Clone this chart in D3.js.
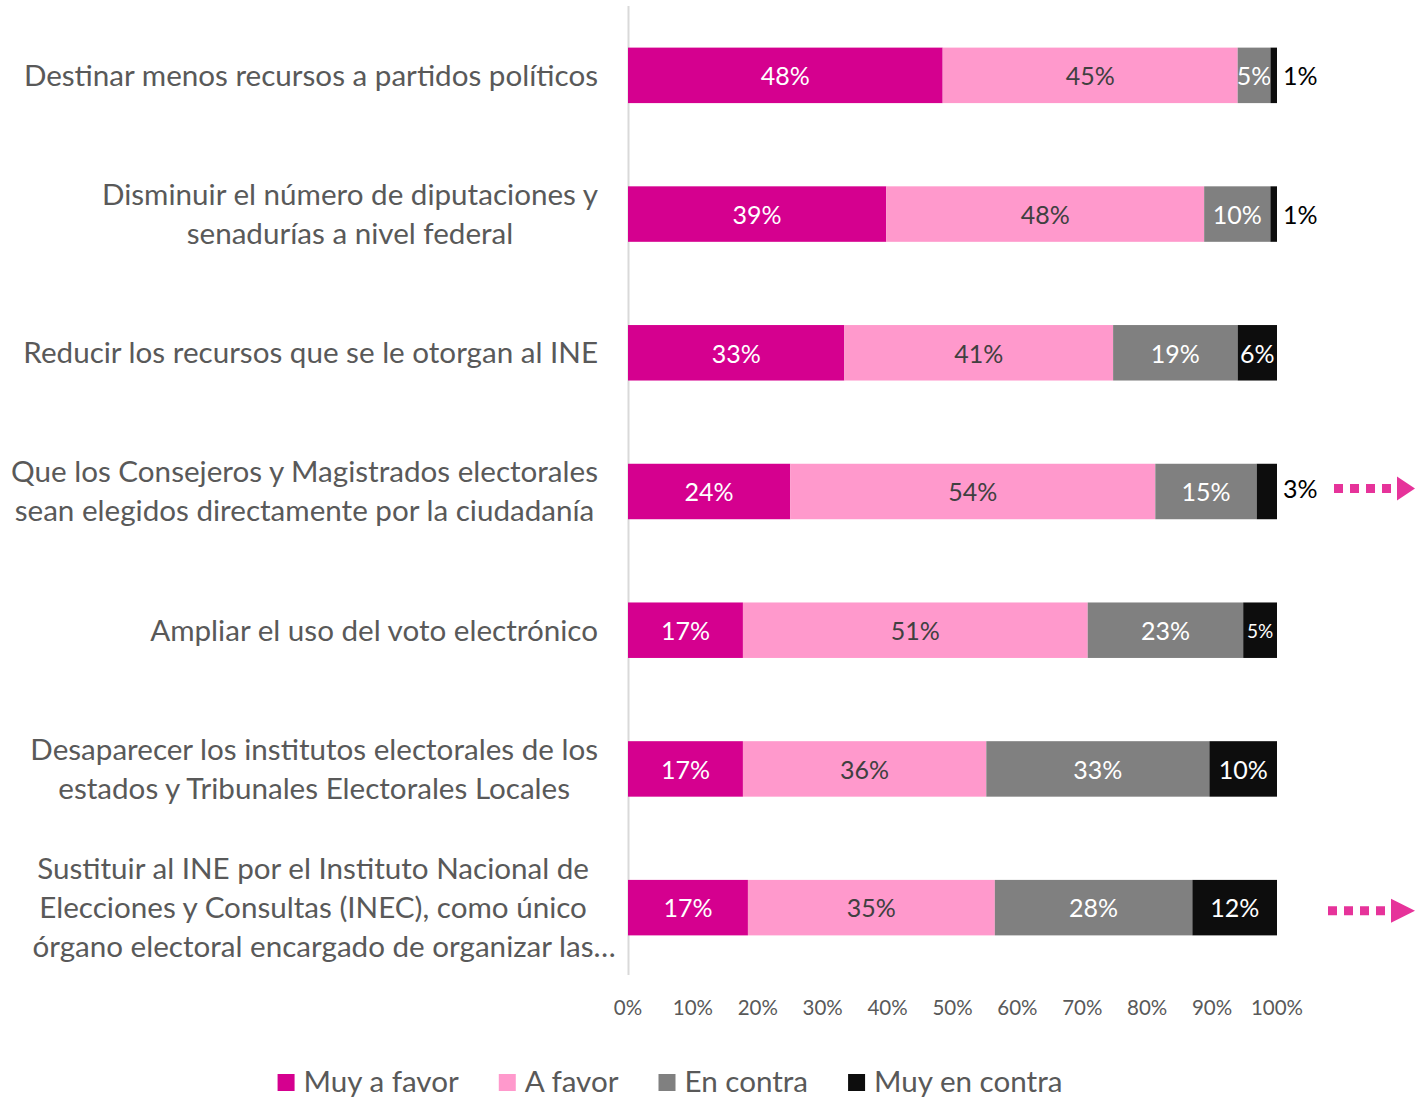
<!DOCTYPE html>
<head>
	<meta charset="utf-8">
	<title>Reforma electoral</title>
	<script src="https://cdn.jsdelivr.net/npm/d3@7/dist/d3.min.js"></script>
	<style>
		body { margin: 0; background: #fff; }
		text { font-family: Lato, "Open Sans", sans-serif; }
	</style>
</head>

<body>
	<div id="chart"></div>

  <script>
	// categories (top to bottom), each split into display lines
	var categories = [
		["Destinar menos recursos a partidos políticos"],
		["Disminuir el número de diputaciones y", "senadurías a nivel federal"],
		["Reducir los recursos que se le otorgan al INE"],
		["Que los Consejeros y Magistrados electorales", "sean elegidos directamente por la ciudadanía"],
		["Ampliar el uso del voto electrónico"],
		["Desaparecer los institutos electorales de los", "estados y Tribunales Electorales Locales"],
		["Sustituir al INE por el Instituto Nacional de", "Elecciones y Consultas (INEC), como único", "órgano electoral encargado de organizar las…"]
	];
	var series = ["Muy a favor", "A favor", "En contra", "Muy en contra"];
	var muyAFavor   = [48, 39, 33, 24, 17, 17, 17];
	var aFavor      = [45, 48, 41, 54, 51, 36, 35];
	var enContra    = [5, 10, 19, 15, 23, 33, 28];
	var muyEnContra = [1, 1, 6, 3, 5, 10, 12];
	var xTicks = [0, 0.1, 0.2, 0.3, 0.4, 0.5, 0.6, 0.7, 0.8, 0.9, 1];
	var arrowRows = [3, 6];

	var colors = ["#d5008f", "#ff99cc", "#808080", "#0d0d0d"];
	var labelColors = ["#ffffff", "#404040", "#ffffff", "#ffffff"];

	var rows = categories.map(function (c, i) {
		return { i: i, "Muy a favor": muyAFavor[i], "A favor": aFavor[i],
			"En contra": enContra[i], "Muy en contra": muyEnContra[i] };
	});

	var width = 1415, height = 1103;
	var svg = d3.select("#chart").append("svg")
		.attr("width", width)
		.attr("height", height);

	var x = d3.scaleLinear().domain([0, 1]).range([628, 1277]);
	var y = d3.scaleBand().domain(d3.range(categories.length))
		.range([6, 977]).paddingInner(0.6).paddingOuter(0.3);

	var stack = d3.stack().keys(series).offset(d3.stackOffsetExpand);
	var layers = stack(rows);

	// vertical axis line
	svg.append("line")
		.attr("x1", x(0) + 0.5).attr("x2", x(0) + 0.5)
		.attr("y1", 6).attr("y2", 975)
		.style("stroke", "#d9d9d9").style("stroke-width", 2);

	var g = svg.selectAll("g.layer").data(layers).enter().append("g")
		.attr("class", "layer");

	g.selectAll("rect").data(function (d) { return d; }).enter().append("rect")
		.attr("x", function (d) { return x(d[0]); })
		.attr("y", function (d) { return y(d.data.i); })
		.attr("width", function (d) { return x(d[1]) - x(d[0]); })
		.attr("height", y.bandwidth())
		.style("fill", function () { return colors[series.indexOf(d3.select(this.parentNode).datum().key)]; });

	// segment labels
	g.each(function (layer, k) {
		d3.select(this).selectAll("text").data(layer).enter().append("text")
			.each(function (d) {
				var v = d.data[layer.key];
				var w = x(d[1]) - x(d[0]);
				var t = d3.select(this).text(v + "%");
				var cy = y(d.data.i) + y.bandwidth() / 2;
				if (w < 25) {
					// too narrow: place outside to the right
					t.attr("x", x(1) + 6).attr("y", cy + (d.data.i == 3 ? -2 : 1))
						.attr("dy", "0.35em").style("font-size", "25px").style("fill", "#000");
				} else {
					var fs = (k == 3 && w < 36) ? 19 : 25;
					t.attr("x", (x(d[0]) + x(d[1])) / 2).attr("y", cy + 1)
						.attr("dy", "0.35em").attr("text-anchor", "middle")
						.style("font-size", fs + "px").style("fill", labelColors[k]);
				}
			});
	});

	// category labels
	svg.selectAll("g.cat").data(categories).enter().append("g")
		.attr("class", "cat")
		.each(function (lines, i) {
			var gg = d3.select(this);
			var n = lines.length;
			var cy = y(i) + y.bandwidth() / 2;
			var texts = gg.selectAll("text").data(lines).enter().append("text")
				.attr("y", function (l, j) { return cy + (j - (n - 1) / 2) * 39; })
				.attr("dy", "0.35em")
				.style("font-size", "29.6px").style("fill", "#595959")
				.text(function (l) { return l; });
			if (n == 1) {
				texts.attr("x", 598).attr("text-anchor", "end");
			} else {
				var w1 = d3.max(texts.nodes().slice(0, 2), function (nd) { return nd.getComputedTextLength(); });
				var center = 598 - w1 / 2 - (n > 2 ? 9 : 0);
				texts.attr("x", center).attr("text-anchor", "middle");
				if (n > 2) d3.select(texts.nodes()[2]).attr("x", center + 11);
			}
		});

	// x axis tick labels
	svg.selectAll("text.tick").data(xTicks).enter().append("text")
		.attr("class", "tick")
		.attr("x", function (d) { return x(d); })
		.attr("y", 1008).attr("dy", "0.35em")
		.attr("text-anchor", "middle")
		.style("font-size", "20.5px").style("fill", "#595959")
		.text(d3.format(".0%"));

	// dotted arrows
	arrowRows.forEach(function (r) {
		var cy = y(r) + y.bandwidth() / 2 + (r == 3 ? -3 : 3);
		var x0 = r == 3 ? 1334 : 1328;
		svg.append("line")
			.attr("x1", x0).attr("x2", x0 + 60)
			.attr("y1", cy).attr("y2", cy)
			.style("stroke", "#e6339a").style("stroke-width", 9)
			.style("stroke-dasharray", "9,7");
		svg.append("path")
			.attr("d", "M" + (x0 + 63) + "," + (cy - 12) + "L" + (x0 + 63) + "," + (cy + 12) + "L" + 1415 + "," + cy + "Z")
			.style("fill", "#e6339a");
	});

	// legend
	var legend = svg.append("g");
	var lx = 0;
	series.forEach(function (s, k) {
		var item = legend.append("g").attr("transform", "translate(" + lx + ",0)");
		item.append("rect").attr("x", 0).attr("y", 1074).attr("width", 17).attr("height", 17)
			.style("fill", colors[k]);
		var t = item.append("text").attr("x", 26).attr("y", 1082).attr("dy", "0.35em")
			.style("font-size", "29.6px").style("fill", "#595959").text(s);
		lx += 26 + t.node().getComputedTextLength() + 40;
	});
	var total = lx - 40;
	legend.attr("transform", "translate(" + (670 - total / 2) + ",0)");
	</script>
</body>
</html>
